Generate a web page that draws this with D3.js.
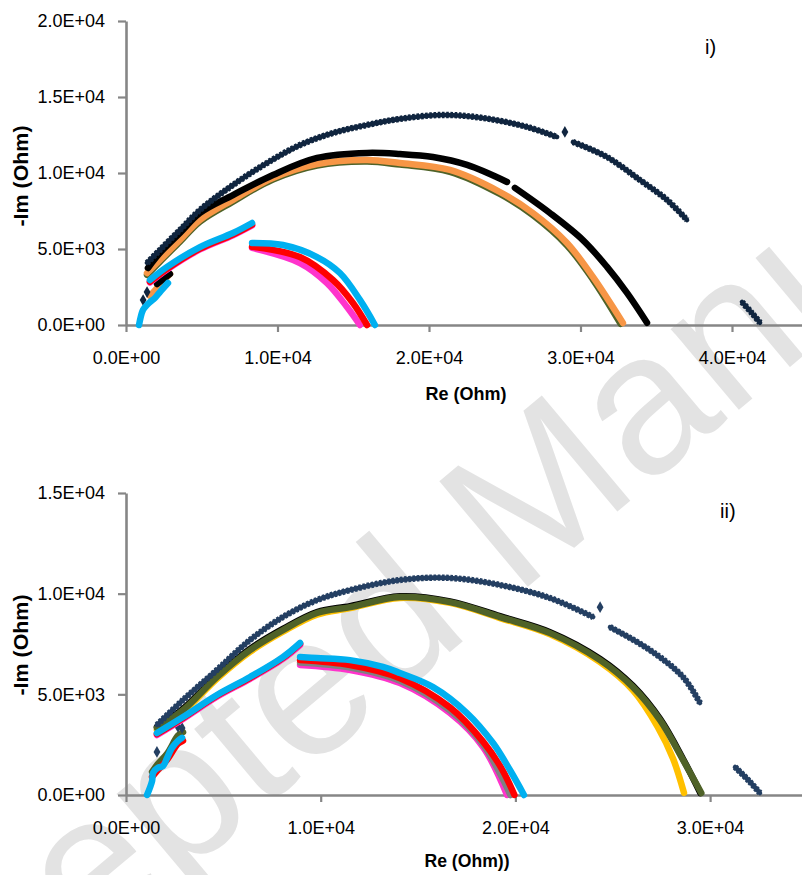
<!DOCTYPE html>
<html>
<head>
<meta charset="utf-8">
<script src="https://cdn.jsdelivr.net/npm/d3@7"></script>
<style>
  body { margin: 0; background: #fff; }
  svg { display: block; }
</style>
</head>
<body>
<svg id="chart" width="802" height="875"></svg>
<script>
// ---- panel i) : [Re, -Im] in Ohm, each series split where the plot has gaps
const xTicksI = [0, 10000, 20000, 30000, 40000]
const yTicksI = [0, 5000, 10000, 15000, 20000]

const navyI = [
  [[1390, 4080], [2240, 4940], [3560, 6250], [4880, 7570], [7060, 9210], [9310, 10660], [11480, 11840], [13660, 12630], [15910, 13160], [18080, 13560], [20920, 13820], [23560, 13620], [26470, 13030], [28450, 12370]],
  [[29500, 12040], [31750, 11050], [33920, 9540], [35710, 8230], [37030, 6910]],
  [[40660, 1510], [41300, 800], [41850, 150]]
]
const navyIDots = [[1130, 1640], [1390, 2170], [28970, 12700]]

const blackI = [
  [[2050, 2700], [2900, 3360]],
  [[1450, 3750], [2240, 4740], [3560, 6050], [4880, 7370], [7060, 8550], [9700, 9870], [12610, 10990], [15910, 11320], [18080, 11250], [20260, 11050], [22510, 10530], [25150, 9410]],
  [[25670, 9020], [27980, 7370], [30160, 5590], [31750, 3820], [33070, 2110], [34390, 150]]
]
const oliveI = [
  [[1390, 3300], [2240, 4170], [3560, 5480], [4880, 6800], [7060, 8120], [9700, 9570], [12610, 10490], [15910, 10750], [18080, 10550], [21380, 10080], [24680, 8620], [26860, 7220], [29110, 5230], [30820, 2990], [32650, 80]]
]
const orangeI = [
  [[1580, 1910], [2900, 3360]],
  [[1390, 3420], [2240, 4280], [3560, 5590], [4880, 6910], [7060, 8230], [9700, 9670], [12610, 10590], [15910, 10860], [18080, 10660], [21380, 10200], [24680, 8750], [26860, 7370], [29110, 5400], [30820, 3160], [32800, 130]]
]
const magentaI = [
  [[1580, 2800], [2710, 3650], [4880, 4970], [7060, 5900], [8320, 6550]],
  [[8320, 5070], [11480, 4080], [13270, 2760], [14590, 1180], [15440, 0]]
]
const redI = [
  [[1580, 2850], [2710, 3700], [4880, 5020], [7060, 5950], [8320, 6600]],
  [[8320, 5150], [11480, 4470], [13660, 2960], [14980, 1450], [15910, 0]]
]
const cyanI = [
  [[860, 0], [1120, 990], [1390, 1320], [1580, 1510], [1910, 1780], [2240, 2170], [2770, 2760]],
  [[1580, 2960], [2710, 3820], [4880, 5130], [7060, 6050], [8320, 6710]],
  [[8320, 5400], [10360, 5260], [12610, 4470], [14120, 3420], [15440, 1650], [16430, 0]]
]

// ---- panel ii)
const xTicksII = [0, 10000, 20000, 30000]
const yTicksII = [0, 5000, 10000, 15000]

const navyII = [
  [[1590, 3480], [2930, 4720], [4670, 6210], [6370, 7700], [8060, 8840], [9810, 9680], [11510, 10180], [14070, 10680], [16640, 10780], [19210, 10430], [21780, 9780], [23990, 8840]],
  [[24860, 8340], [26910, 7200], [28610, 5860], [29480, 4570]],
  [[31280, 1390], [32000, 700], [32560, 100]]
]
const navyIIDots = [[1590, 2140], [2670, 3380], [2880, 3330], [24350, 9330]]

const blackII = [
  [[1590, 3380], [2930, 4280], [4670, 5920], [6370, 7260], [8060, 8250], [9810, 9090], [11510, 9380], [14070, 9870], [16640, 9620], [19210, 8880], [21780, 8090], [24350, 6760], [26040, 5420], [27430, 3780], [28610, 1790], [29500, 100]]
]
const yellowII = [
  [[1590, 3230], [2930, 4130], [4670, 5770], [6370, 7110], [8060, 8110], [9810, 8960], [11510, 9280], [14070, 9790], [16640, 9540], [19210, 8790], [21780, 7980], [24350, 6600], [26040, 5200], [27300, 3400], [28100, 1800], [28660, 100]]
]
const oliveII = [
  [[1340, 1150], [1640, 1550], [2110, 2050], [2670, 2950], [2930, 3120]],
  [[1590, 3330], [2930, 4220], [4670, 5860], [6370, 7200], [8060, 8190], [9810, 9040], [11510, 9330], [14070, 9830], [16640, 9580], [19210, 8840], [21780, 8040], [24350, 6700], [26040, 5360], [27430, 3720], [28610, 1740], [29550, 100]]
]
const magentaII = [
  [[1590, 2980], [2930, 3780], [4670, 4880], [6370, 5770], [8060, 6760], [8940, 7450]],
  [[8940, 6460], [11510, 6210], [14070, 5560], [16640, 4070], [18340, 2380], [19570, 0]]
]
const grayII = [
  [[8940, 6580], [11510, 6330], [14070, 5680], [16640, 4200], [18340, 2500], [19750, 0]]
]
const redII = [
  [[1340, 900], [1640, 1250], [2110, 1750], [2670, 2550], [2930, 2700]],
  [[1590, 3030], [2930, 3830], [4670, 4930], [6370, 5820], [8060, 6810], [8940, 7520]],
  [[8940, 6700], [11510, 6450], [14070, 5800], [16640, 4350], [18340, 2650], [19300, 1300], [19950, 0]]
]
const cyanII = [
  [[1080, 0], [1340, 700], [1390, 1100], [1640, 1350], [1900, 1440], [2110, 1840], [2360, 2340], [2670, 2690], [2880, 2840]],
  [[1590, 3080], [2930, 3870], [4670, 4970], [6370, 5860], [8060, 6850], [8940, 7550]],
  [[8940, 6850], [9810, 6800], [11510, 6700], [13200, 6360], [14070, 6060], [15770, 5360], [17510, 4070], [18850, 2580], [19720, 1240], [20440, 0]]
]

const FONT = '"Liberation Sans", Arial, sans-serif'
const AXIS_GRAY = '#868686'

const svg = d3.select('#chart')

// faint journal watermark behind everything
svg.append('text')
  .attr('transform', 'translate(-166,1169) rotate(-40)')
  .attr('font-family', FONT)
  .attr('font-size', 200)
  .attr('fill', '#e3e3e3')
  .text('Accepted Manuscript')

const fmtSci = v => {
  if (v === 0) return '0.0E+00'
  const e = Math.floor(Math.log10(v))
  return (v / Math.pow(10, e)).toFixed(1) + 'E+' + String(e).padStart(2, '0')
}

function drawPanel (p) {
  const x = d3.scaleLinear().domain(p.xDomain).range(p.xRange)
  const y = d3.scaleLinear().domain(p.yDomain).range(p.yRange)
  const g = svg.append('g')

  const gx = g.append('g')
    .attr('transform', `translate(0,${y(0)})`)
    .call(d3.axisBottom(x).tickValues(p.xTicks).tickFormat(fmtSci)
      .tickSize(7).tickSizeOuter(0).tickPadding(19))
  const gy = g.append('g')
    .attr('transform', `translate(${x(0)},0)`)
    .call(d3.axisLeft(y).tickValues(p.yTicks).tickFormat(fmtSci)
      .tickSize(8).tickSizeOuter(0).tickPadding(13))

  ;[gx, gy].forEach(a => {
    a.attr('font-family', FONT).attr('font-size', 18)
    a.select('.domain').attr('stroke', AXIS_GRAY).attr('stroke-width', 2.6)
    a.selectAll('.tick line').attr('stroke', AXIS_GRAY).attr('stroke-width', 2.2)
    a.selectAll('.tick text').attr('fill', '#000')
  })

  // axis titles
  g.append('text')
    .attr('x', p.xTitleX).attr('y', p.xTitleY)
    .attr('text-anchor', 'middle')
    .attr('font-family', FONT).attr('font-weight', 'bold').attr('font-size', 19)
    .attr('textLength', p.xTitleLen).attr('lengthAdjust', 'spacingAndGlyphs')
    .text(p.xTitle)
  g.append('text')
    .attr('transform', `translate(28,${p.yTitleY}) rotate(-90)`)
    .attr('text-anchor', 'middle')
    .attr('font-family', FONT).attr('font-weight', 'bold').attr('font-size', 21)
    .attr('textLength', 101).attr('lengthAdjust', 'spacingAndGlyphs')
    .text('-Im (Ohm)')
  g.append('text')
    .attr('x', p.tagX).attr('y', p.tagY)
    .attr('font-family', FONT).attr('font-size', 20)
    .text(p.tag)

  const line = d3.line()
    .x(d => x(d[0]))
    .y(d => y(d[1]))
    .curve(d3.curveCatmullRom.alpha(0.5))

  p.series.forEach(s => {
    const layer = g.append('g')
    layer.selectAll(null)
      .data(s.segs)
      .join('path')
      .attr('d', line)
      .attr('fill', 'none')
      .attr('stroke', s.color)
      .attr('stroke-width', s.beaded ? 4.6 : 6.5)
      .attr('stroke-linecap', 'round')
      .attr('stroke-linejoin', 'round')
    if (s.beaded) {
      // overlapping diamond markers give the edge a notched look
      layer.selectAll(null)
        .data(s.segs)
        .join('path')
        .attr('d', line)
        .attr('fill', 'none')
        .attr('stroke', s.color)
        .attr('stroke-width', 6.4)
        .attr('stroke-dasharray', '2.6 1.6')
    }
    if (s.dots) {
      layer.selectAll(null)
        .data(s.dots)
        .join('path')
        .attr('transform', d => `translate(${x(d[0])},${y(d[1])})`)
        .attr('d', d3.symbol(d3.symbolDiamond, 40))
        .attr('fill', s.color)
    }
  })
}

drawPanel({
  xDomain: [0, 50000], xRange: [126, 883.5],
  yDomain: [0, 20000], yRange: [325, 21],
  xTicks: xTicksI, yTicks: yTicksI,
  xTitle: 'Re (Ohm)', xTitleX: 466, xTitleY: 400, xTitleLen: 81,
  yTitleY: 176,
  tag: 'i)', tagX: 705, tagY: 54,
  series: [
    { segs: oliveI, color: '#4f6228' },
    { segs: orangeI, color: '#f79646' },
    { segs: blackI, color: '#000000' },
    { segs: navyI, color: '#10253f', beaded: true, dots: navyIDots },
    { segs: magentaI, color: '#ff33cc' },
    { segs: redI, color: '#ff0000' },
    { segs: cyanI, color: '#00b0f0' }
  ]
})

drawPanel({
  xDomain: [0, 40000], xRange: [126, 904.8],
  yDomain: [0, 15000], yRange: [795, 493],
  xTicks: xTicksII, yTicks: yTicksII,
  xTitle: 'Re (Ohm))', xTitleX: 467, xTitleY: 867, xTitleLen: 85,
  yTitleY: 645,
  tag: 'ii)', tagX: 720, tagY: 518,
  series: [
    { segs: blackII, color: '#000000' },
    { segs: yellowII, color: '#ffc000' },
    { segs: oliveII, color: '#4f6228' },
    { segs: navyII, color: '#243f62', beaded: true, dots: navyIIDots },
    { segs: magentaII, color: '#ff33cc' },
    { segs: grayII, color: '#808080' },
    { segs: redII, color: '#ff0000' },
    { segs: cyanII, color: '#00b0f0' }
  ]
})
</script>
</body>
</html>
